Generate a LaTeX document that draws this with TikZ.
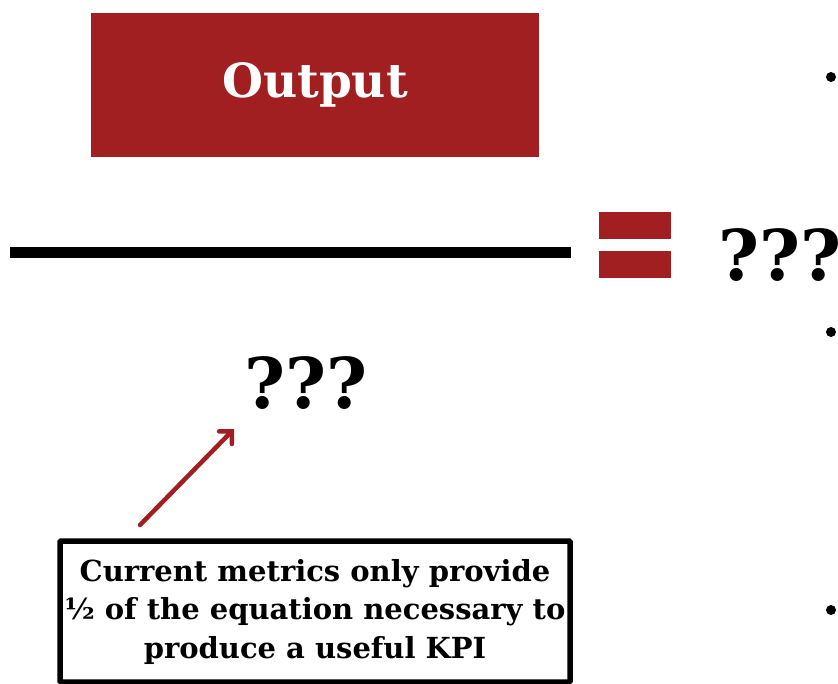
\documentclass[tikz,border=0pt]{standalone}
\usepackage{fontspec}
\setmainfont{DejaVu Serif}
\usetikzlibrary{arrows.meta,positioning}
\definecolor{cRed}{HTML}{A11F20}

\begin{document}
\begin{tikzpicture}[x=1pt,y=-1pt,font=\bfseries,
  bar/.style={fill=cRed,draw=none},
  query/.style={font=\fontsize{70}{72}\selectfont\bfseries,inner sep=0pt},
  dot/.style={circle,fill=black,inner sep=0pt,minimum size=10pt},
  pointer/.style={cRed,line width=4.5pt,line cap=round,-{Straight Barb[length=9pt,width=18pt,line cap=round]}}]
\useasboundingbox (0,0) rectangle (838,684);
\clip (0,0) rectangle (838,684);
% numerator
\node[bar,minimum width=448pt,minimum height=144pt,text=white,
  font=\fontsize{47}{49}\selectfont\bfseries] (outbox) at (315,85) {\raisebox{-3pt}{Output}};
% fraction line and equals sign
\draw[line width=11pt] (10,252.5) -- (571,252.5);
\fill[cRed] (599,212) rectangle (671,239);
\fill[cRed] (599,251) rectangle (671,278);
\node[query,anchor=base west] (rhs) at (718,281) {???};
% denominator
\node[query,anchor=base] (denom) at (306,409) {???};
% side bullets
\foreach \y/\name in {77/b1,332/b2,610/b3}{
  \node[dot] (\name) at (831,\y) {};
}
% note box
\node[draw,line width=5.5pt,rounded corners=1pt,minimum width=510pt,minimum height=141pt,
  align=center,font=\fontsize{29}{38.5}\selectfont\bfseries] (note) at (315,611.5)
  {Current metrics only provide\\½ of the equation necessary to\\produce a useful KPI};
\coordinate (hint) at (140,525);
\coordinate (aim) at (234,429);
\draw[pointer] (hint) -- (aim);
\end{tikzpicture}
\end{document}
